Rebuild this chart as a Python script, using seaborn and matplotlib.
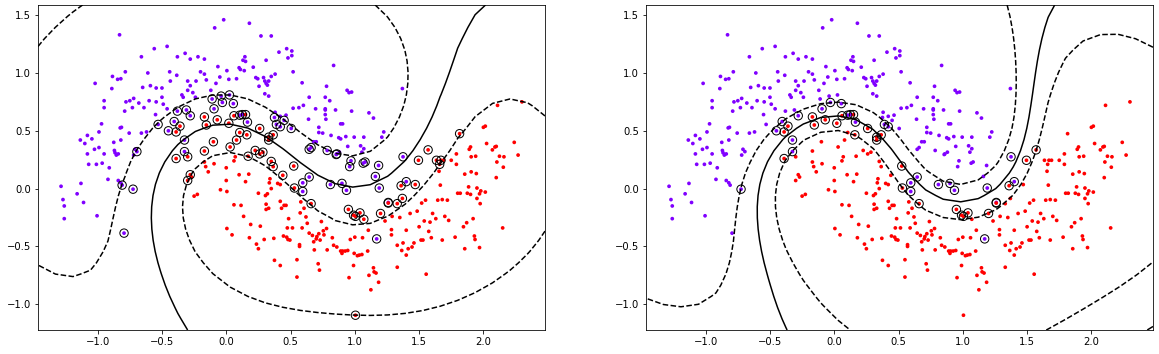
import matplotlib
matplotlib.use("Agg")
import matplotlib.pyplot as plt
import numpy as np
import seaborn as sns

purple_x = [-0.02, 0.18, -0.09, -0.83, 0.27, 0.35, -0.46, -0.56, -0.32, -0.38, -0.22, -0.66, -0.28, -0.17,
            -1.285, -1.27, -1.26, -1.26, -1.16, -1.13, -1.11, -1.005, -1.135, -1.10, -1.08, -1.045, -1.08, -1.025,
            -1.07, -1.01, -0.99, -0.99, -0.97, -0.965, -0.95, -1.02, -0.95, -0.95, -0.92, -0.91, -0.89, -0.885,
            -0.875, -0.87, -0.865, -0.855, -0.84, -0.845, -0.82, -0.785, -0.84, -0.82, -0.81, -0.825, -0.815,
            -0.82, -0.78, -0.79, -0.75, -0.73, -0.72, -0.71, -0.72, -0.695, -0.755, -0.68, -0.66, -0.65, -0.64,
            -0.62, -0.61, -0.60, -0.59, -0.55, -0.545, -0.545, -0.53, -0.50, -0.50, -0.49, -0.46, -0.44, -0.435,
            -0.405, -0.385, -0.38, -0.345, -0.335, -0.30, -0.31, -0.30, -0.28, -0.26, -0.24, -0.235, -0.20, -0.17,
            -0.155, -0.12, -0.11, -0.08, -0.065, -0.05, -0.04, 0.005, 0.025, 0.02, 0.08, 0.10, 0.11, 0.13, 0.145,
            0.15, 0.14, 0.21, 0.23, 0.245, 0.255, 0.29, 0.30, 0.31, 0.32, 0.31, 0.33, 0.35, 0.30, 0.33, 0.38, 0.41,
            0.47, 0.51, 0.48, 0.51, 0.52, 0.38, 0.42, 0.465, 0.45, 0.505, 0.52, 0.565, 0.59, 0.60, 0.64, 0.645,
            0.66, 0.645, 0.68, 0.70, 0.695, 0.72, 0.72, 0.75, 0.77, 0.77, 0.77, 0.775, 0.78, 0.77, 0.785, 0.805,
            0.815, 0.835, 0.85, 0.86, 0.875, 0.89, 0.905, 0.89, 0.855, 0.88, 0.93, 0.94, 0.955, 0.975, 0.975,
            0.945, 0.97, 0.96, 0.995, 1.045, 1.055, 1.07, 1.07, 1.065, 1.08, 1.11, 1.145, 1.185, 1.21, 1.225,
            1.37, 1.375,
            -0.725, -0.795, -0.45, -0.325, -0.325, -0.28, -0.095, -0.03, 0.055, 0.165, 0.105, 0.125, 0.375, 0.39,
            0.42, 0.645, 0.595, 0.595, 0.81, 0.90, 0.935, 1.16, 1.19, 1.40, 1.17, 1.26]
purple_y = [1.46, 1.43, 1.39, 1.33, 1.32, 1.32, 1.23, 1.21, 1.17, 1.14, 1.14, 1.14, 1.12, 1.12,
            0.02, -0.095, -0.15, -0.26, -0.045, 0.045, -0.12, -0.235, 0.42, 0.39, 0.46, 0.43, 0.30, 0.34,
            0.21, 0.21, 0.355, 0.49, 0.56, 0.22, 0.30, 0.91, 0.76, 0.70, 0.08, 0.18, 0.865, 0.97,
            0.40, 0.33, 0.31, 0.29, 0.30, 0.945, 0.95, 1.01, 0.07, 0.05, 0.03, 0.525, 0.53,
            0.42, 0.75, 0.67, 0.76, 0.70, 0.78, 0.34, 0.29, 0.32, 0.48, 0.74, 0.48, 0.875, 0.70,
            0.49, 1.00, 0.76, 0.89, 0.64, 0.87, 0.75, 0.555, 0.87, 0.79, 0.73, 0.69, 1.01, 0.93,
            0.58, 0.98, 0.67, 0.81, 0.79, 0.93, 0.68, 0.85, 0.89, 0.83, 0.79, 0.93, 1.01, 0.99,
            0.94, 0.85, 0.775, 0.91, 1.055, 0.965, 0.80, 1.02, 0.81, 0.945, 0.95, 1.045, 1.03, 1.11, 1.14,
            1.10, 1.02, 1.05, 0.96, 0.95, 0.885, 0.96, 0.93, 0.91, 0.895, 1.11, 0.93, 0.97, 0.82, 0.80, 0.99, 1.18,
            1.21, 1.19, 1.13, 1.15, 1.01, 0.66, 0.625, 0.635, 0.59, 0.52, 0.695, 0.70, 0.915, 0.72, 0.60, 0.79,
            0.355, 0.34, 0.405, 0.405, 0.69, 0.53, 0.485, 0.48, 0.68, 0.69, 0.64, 0.60, 0.885, 0.79, 0.33, 0.76,
            0.46, 1.065, 0.68, 0.30, 0.44, 0.56, 0.56, 0.43, 0.295, 0.315, 0.45, 0.85, 0.83, 0.835, 0.67,
            0.365, 0.24, 0.19, 0.445, 0.37, 0.315, 0.345, 0.445, 0.22, 0.23, 0.655, 0.61, 0.20, 0.445, 0.49,
            0.865, 0.275,
            -0.005, -0.385, 0.50, 0.42, 0.32, 0.63, 0.69, 0.745, 0.735, 0.575, 0.635, 0.64, 0.615, 0.555,
            0.535, 0.10, 0.05, -0.025, 0.035, 0.045, -0.015, 0.105, 0.005, 0.06, -0.435, -0.12]

red_x = [-0.39, -0.36, -0.39, -0.155, -0.17, -0.07, 0.02, 0.06, 0.15, 0.105, 0.16, 0.26, 0.33, 0.33, 0.365,
         0.525, 0.53, 0.95, 0.99, 1.005, 1.04, 1.07, 1.36, 1.495, 1.57, 1.26,
         -0.30, -0.30, -0.28, -0.27, -0.25, -0.225, -0.17, -0.17, -0.16, -0.14, -0.10, -0.095, -0.045, 0.0,
         0.0, 0.005, 0.005, 0.03, 0.045, 0.06, 0.06, 0.07, 0.08, 0.10, 0.115, 0.135, 0.15, 0.17, 0.175, 0.19,
         0.18, 0.225, 0.235, 0.25, 0.25, 0.26, 0.265, 0.285, 0.295, 0.305, 0.31, 0.31, 0.33, 0.32, 0.335,
         0.34, 0.35, 0.35, 0.365, 0.37, 0.375, 0.40, 0.42, 0.42, 0.42, 0.43, 0.44, 0.445, 0.45, 0.465, 0.47,
         0.475, 0.48, 0.485, 0.495, 0.515, 0.55, 0.55, 0.57, 0.57, 0.575, 0.58, 0.59, 0.605, 0.62, 0.63,
         0.645, 0.66, 0.67, 0.68, 0.685, 0.70, 0.705, 0.715, 0.72, 0.725, 0.73, 0.74, 0.755, 0.76, 0.78,
         0.785, 0.825, 0.835, 0.86, 0.89, 0.90, 0.905, 0.925, 0.945, 0.955, 0.965, 0.99, 0.995, 1.0, 1.005,
         1.02, 1.035, 1.055, 1.06, 1.10, 1.105, 1.11, 1.125, 1.145, 1.15, 1.165, 1.185, 1.235, 1.285, 1.285,
         1.29, 1.33, 1.33, 1.35, 1.365, 1.37, 1.375, 1.40, 1.40, 1.415, 1.43, 1.445, 1.46, 1.47, 1.485, 1.50,
         1.515, 1.52, 1.53, 1.54, 1.555, 1.55, 1.575, 1.585, 1.595, 1.605, 1.63, 1.635, 1.645, 1.655, 1.665,
         1.66, 1.67, 1.68, 1.68, 1.69, 1.70, 1.72, 1.73, 1.75, 1.78, 1.79, 1.79, 1.80, 1.815, 1.82, 1.845,
         1.855, 1.855, 1.87, 1.875, 1.885, 1.89, 1.90, 1.90, 1.905, 1.905, 1.92, 1.93, 1.935, 1.94, 1.945,
         1.95, 1.95, 1.97, 1.97, 1.975, 1.98, 2.0, 2.015, 2.015, 2.025, 2.07, 2.09, 2.10, 2.105, 2.10, 2.11,
         2.125, 2.155, 2.15, 2.16, 2.24, 2.27, 2.30, 1.2, 1.33]
red_y = [0.49, 0.54, 0.26, 0.55, 0.62, 0.595, 0.565, 0.63, 0.64, 0.485, 0.465, 0.52, 0.445, 0.42, 0.465,
         0.195, 0.005, -0.18, -0.23, -0.24, -0.21, -0.265, 0.025, 0.245, 0.335, -0.125,
         0.275, 0.07, 0.12, 0.10, -0.065, -0.05, 0.325, 0.23, 0.19, 0.145, 0.405, 0.215, -0.01, 0.07,
         0.18, -0.025, -0.345, 0.36, -0.40, 0.24, -0.14, 0.275, 0.42, 0.12, -0.145, -0.24, 0.06, 0.28, 0.125, -0.31,
         -0.425, 0.33, -0.48, -0.52, -0.04, 0.30, -0.325, 0.315, -0.44, -0.06, -0.135, -0.18, -0.17, -0.045, 0.05,
         0.085, 0.0, 0.235, 0.19, -0.43, -0.62, 0.045, 0.035, -0.665, -0.11, -0.17, 0.115, -0.41, -0.145, -0.145, -0.42,
         -0.34, -0.44, -0.26, -0.445, -0.34, -0.615, -0.765, -0.485, -0.50, -0.21, -0.115, -0.34, -0.17, -0.245, -0.30,
         -0.385, -0.13, -0.405, -0.46, -0.53, -0.435, -0.415, -0.65, -0.39, -0.705, -0.445, -0.285, -0.365, -0.40, -0.345,
         -0.53, -0.425, -0.49, -0.505, -0.54, -0.56, -0.54, -0.54, -0.535, -0.77, -0.44, -0.665, -0.56, -0.42, -1.095,
         -0.58, -0.575, -0.57, -0.425, -0.54, -0.36, -0.75, -0.875, -0.685, -0.72, -0.73, -0.81, -0.28, -0.40, -0.355,
         -0.24, -0.49, -0.68, -0.25, -0.535, -0.085, -0.47, -0.575, -0.36, -0.52, -0.215, -0.505, -0.47, 0.035, -0.195, -0.33,
         -0.445, -0.125, -0.445, -0.28, -0.74, -0.10, -0.37, -0.29, -0.425, -0.215, -0.26, 0.245, -0.10, 0.15, 0.03,
         0.21, 0.245, -0.445, -0.095, 0.245, -0.24, -0.10, -0.275, 0.245, -0.42, 0.30, 0.21, -0.04, 0.475, -0.04, -0.33,
         -0.52, 0.125, -0.295, -0.04, 0.015, 0.34, 0.36, -0.05, 0.145, 0.275, -0.26, -0.41, -0.44, 0.28, 0.13,
         -0.085, 0.005, -0.51, -0.045, -0.13, -0.02, 0.53, 0.54, -0.03, 0.39, 0.335, 0.36, 0.365, 0.23, 0.095, 0.72,
         0.28, 0.185, -0.34, 0.275, 0.40, 0.29, 0.75, -0.215, -0.13]

# SVC settings (rbf kernel) for the two panels
panel_C = [0.7, 10.0]
panel_gamma = [1.0, 1.0]

X = np.column_stack([purple_x + red_x, purple_y + red_y])
y = np.array([-1.0] * len(purple_x) + [1.0] * len(red_x))


def rbf(A, B, gamma):
    return np.exp(-gamma * ((A[:, None, :] - B[None, :, :]) ** 2).sum(-1))


def fit_svc(X, y, C, gamma, tol=1e-3, max_iter=300000):
    # plain SMO on the dual (maximal violating pair)
    K = rbf(X, X, gamma)
    a = np.zeros(len(y))
    G = -np.ones(len(y))
    for _ in range(max_iter):
        yG = -y * G
        up = ((y > 0) & (a < C)) | ((y < 0) & (a > 0))
        low = ((y > 0) & (a > 0)) | ((y < 0) & (a < C))
        i = np.where(up, yG, -np.inf).argmax()
        j = np.where(low, yG, np.inf).argmin()
        if yG[i] - yG[j] < tol:
            break
        eta = max(K[i, i] + K[j, j] - 2 * K[i, j], 1e-12)
        t = (yG[i] - yG[j]) / eta
        t = min(t, C - a[i] if y[i] > 0 else a[i])
        t = min(t, a[j] if y[j] > 0 else C - a[j])
        a[i] += y[i] * t
        a[j] -= y[j] * t
        G += t * y * (K[:, i] - K[:, j])
    yG = -y * G
    free = (a > 1e-8) & (a < C - 1e-8)
    b = yG[free].mean() if free.any() else 0.0
    return a, b


W, H = 1159, 354
fig = plt.figure(figsize=(W / 72, H / 72), dpi=72)
ax_l = fig.add_axes([38 / W, 24 / H, 507 / W, 325 / H])
ax_r = fig.add_axes([646 / W, 24 / H, 507 / W, 325 / H])

for ax, C, g in zip([ax_l, ax_r], panel_C, panel_gamma):
    a, b = fit_svc(X, y, C, g)
    sns.scatterplot(x=X[:, 0], y=X[:, 1], hue=y, palette={-1.0: "#8000ff", 1.0: "#ff0000"},
                    s=14, linewidth=0, legend=False, ax=ax)
    xlim, ylim = ax.get_xlim(), ax.get_ylim()
    xx, yy = np.meshgrid(np.linspace(*xlim, 30), np.linspace(*ylim, 30))
    grid = np.column_stack([xx.ravel(), yy.ravel()])
    Z = (rbf(grid, X, g) @ (a * y) + b).reshape(xx.shape)
    ax.contour(xx, yy, Z, levels=[-1, 0, 1], colors="k", linestyles=["--", "-", "--"], linewidths=1.5)
    sv = a > 1e-8
    ax.scatter(X[sv, 0], X[sv, 1], s=70, facecolors="none", edgecolors="k", linewidth=1)
    ax.set_xlim(xlim)
    ax.set_ylim(ylim)

fig.savefig("out.png", dpi=72)
